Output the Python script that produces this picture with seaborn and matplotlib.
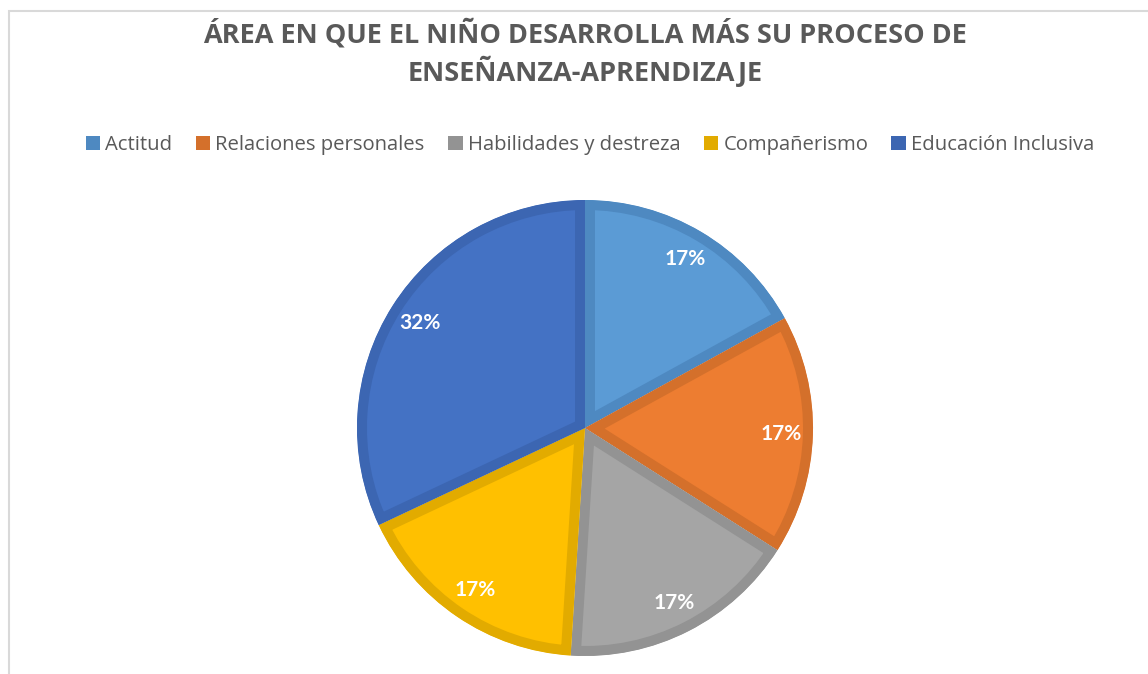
import matplotlib
matplotlib.use("Agg")
import matplotlib.pyplot as plt
import seaborn as sns
from matplotlib.patches import Rectangle, Patch, Wedge

sns.set_theme(style="white")
plt.rcParams['font.family'] = ['Open Sans', 'DejaVu Sans']

categories = ["Actitud", "Relaciones personales", "Habilidades y destreza",
              "Compañerismo", "Educación Inclusiva"]
values = [17, 17, 17, 17, 32]
fill_colors = ["#5b9bd5", "#ed7d31", "#a5a5a5", "#ffc000", "#4472c4"]
edge_colors = ["#4e89c1", "#d4702b", "#939393", "#e2ab00", "#3c66b2"]
title = "ÁREA EN QUE EL NIÑO DESARROLLA MÁS SU PROCESO DE\nENSEÑANZA-APRENDIZAJE"

W, H = 1148, 674
fig = plt.figure(figsize=(W / 100, H / 100), dpi=100)
fig.patch.set_facecolor("white")

# chart frame
fig.add_artist(Rectangle((9 / W, -0.05), 1.1, 1 - 11 / H + 0.05, transform=fig.transFigure,
                         fill=False, edgecolor="#d9d9d9", linewidth=1.5))

ax = fig.add_axes([0, 0, 1, 1])
ax.set_xlim(0, W)
ax.set_ylim(0, H)
ax.set_aspect("equal")
ax.axis("off")

wedges, texts, autotexts = ax.pie(
    values, colors=fill_colors, startangle=90, counterclock=False,
    center=(585, H - 428), radius=228, autopct="%1.0f%%", pctdistance=0.86,
    wedgeprops=dict(linewidth=14.4),
    textprops=dict(color="white", fontsize=15, fontweight="bold", family=["Lato", "DejaVu Sans"]),
    frame=False)
for w, ec in zip(wedges, edge_colors):
    w.set_edgecolor(ec)
    w.set_joinstyle("miter")
    clip = Wedge(w.center, w.r, w.theta1, w.theta2, transform=ax.transData)
    w.set_clip_on(True)
    w.set_clip_path(clip)
ax.set_xlim(0, W)
ax.set_ylim(0, H)
ax.axis("off")

fig.text(585 / W, 1 - 53 / H, title, ha="center", va="center", fontsize=19.5,
         fontweight="bold", color="#595959", linespacing=1.3)

handles = [Patch(facecolor=c, edgecolor="none") for c in edge_colors]
leg = fig.legend(handles, categories, loc="center", bbox_to_anchor=(590 / W, 1 - 145 / H),
                 ncol=5, frameon=False, fontsize=14.6, handlelength=0.72, handleheight=0.72,
                 handletextpad=0.25, columnspacing=1.15)
for t in leg.get_texts():
    t.set_color("#595959")

fig.savefig("out.png", dpi=100, facecolor="white")
